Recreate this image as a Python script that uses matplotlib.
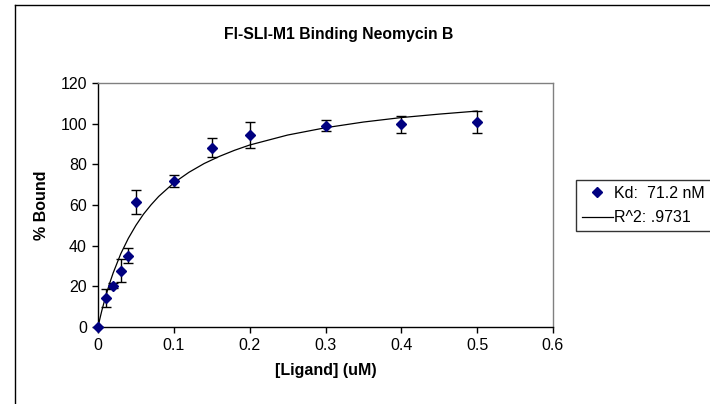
import matplotlib.pyplot as plt
from matplotlib.lines import Line2D

plt.rcParams['font.family'] = ['Liberation Sans', 'DejaVu Sans']

# measured binding data
ligand = [0, 0.01, 0.02, 0.03, 0.04, 0.05, 0.1, 0.15, 0.2, 0.3, 0.4, 0.5]
bound = [0, 14.2, 20.3, 27.7, 35.0, 61.7, 71.7, 88.2, 94.2, 99.0, 99.7, 100.8]
err = [0, 4.4, 1.2, 5.7, 3.7, 5.9, 3.0, 4.6, 6.4, 2.7, 4.3, 5.4]

# fitted curve
fit_x = [0, 0.0025, 0.005, 0.01, 0.015, 0.02, 0.03, 0.04, 0.05, 0.06, 0.07, 0.08,
         0.1, 0.12, 0.14, 0.16, 0.18, 0.2, 0.25, 0.3, 0.35, 0.4, 0.45, 0.5]
fit_y = [0, 4.1, 8.0, 14.9, 21.1, 26.6, 36.0, 43.6, 50.0, 55.5, 60.1, 64.2,
         70.9, 76.1, 80.4, 83.9, 86.9, 89.5, 94.4, 98.0, 100.8, 103.0, 104.7, 106.2]

fig = plt.figure(figsize=(7.1, 4.04), dpi=100)
ax = fig.add_axes([98 / 710, 77 / 404, 455 / 710, 244 / 404])

ax.plot(fit_x, fit_y, color='black', lw=0.9, zorder=2)
ax.errorbar(ligand, bound, yerr=err, fmt='none', ecolor='black', elinewidth=1,
            capsize=3.6, capthick=1, zorder=3)
ax.plot(ligand, bound, 'D', color='#000080', ms=5.5, zorder=4, clip_on=False)

ax.set_xlim(0, 0.6)
ax.set_ylim(0, 120)
ax.set_xticks([0, 0.1, 0.2, 0.3, 0.4, 0.5, 0.6])
ax.set_xticklabels(['0', '0.1', '0.2', '0.3', '0.4', '0.5', '0.6'])
ax.set_yticks(range(0, 121, 20))
ax.tick_params(direction='out', length=4, width=1, labelsize=11.5, pad=4, colors='black')

for s in ['left', 'bottom']:
    ax.spines[s].set_color('black')
    ax.spines[s].set_linewidth(1)
for s in ['top', 'right']:
    ax.spines[s].set_color('#808080')
    ax.spines[s].set_linewidth(1)

ax.set_xlabel('[Ligand] (uM)', fontsize=11.5, fontweight='bold', labelpad=7)
ax.set_ylabel('% Bound', fontsize=11.5, fontweight='bold', labelpad=8)
fig.text(339 / 710, 1 - 34 / 404, 'Fl-SLI-M1 Binding Neomycin B',
         ha='center', va='center', fontsize=11.3, fontweight='bold')

# outer chart frame
fig.add_artist(Line2D([15 / 710, 1], [1 - 5 / 404, 1 - 5 / 404], color='black', lw=1))
fig.add_artist(Line2D([15 / 710, 15 / 710], [0, 1 - 5 / 404], color='black', lw=1))

handles = [Line2D([], [], ls='none', marker='D', color='#000080', ms=5),
           Line2D([], [], color='black', lw=0.9)]
leg = fig.legend(handles, ['Kd:  71.2 nM', 'R^2: .9731'], loc='upper left',
                 bbox_to_anchor=(576 / 710, 1 - 180 / 404), frameon=True, fancybox=False,
                 fontsize=11.5, borderpad=0.35, handlelength=1.95, handletextpad=0.1,
                 labelspacing=0.6, borderaxespad=0)
leg.get_frame().set_edgecolor('black')
leg.get_frame().set_linewidth(1)

fig.savefig('out.png', dpi=100)
